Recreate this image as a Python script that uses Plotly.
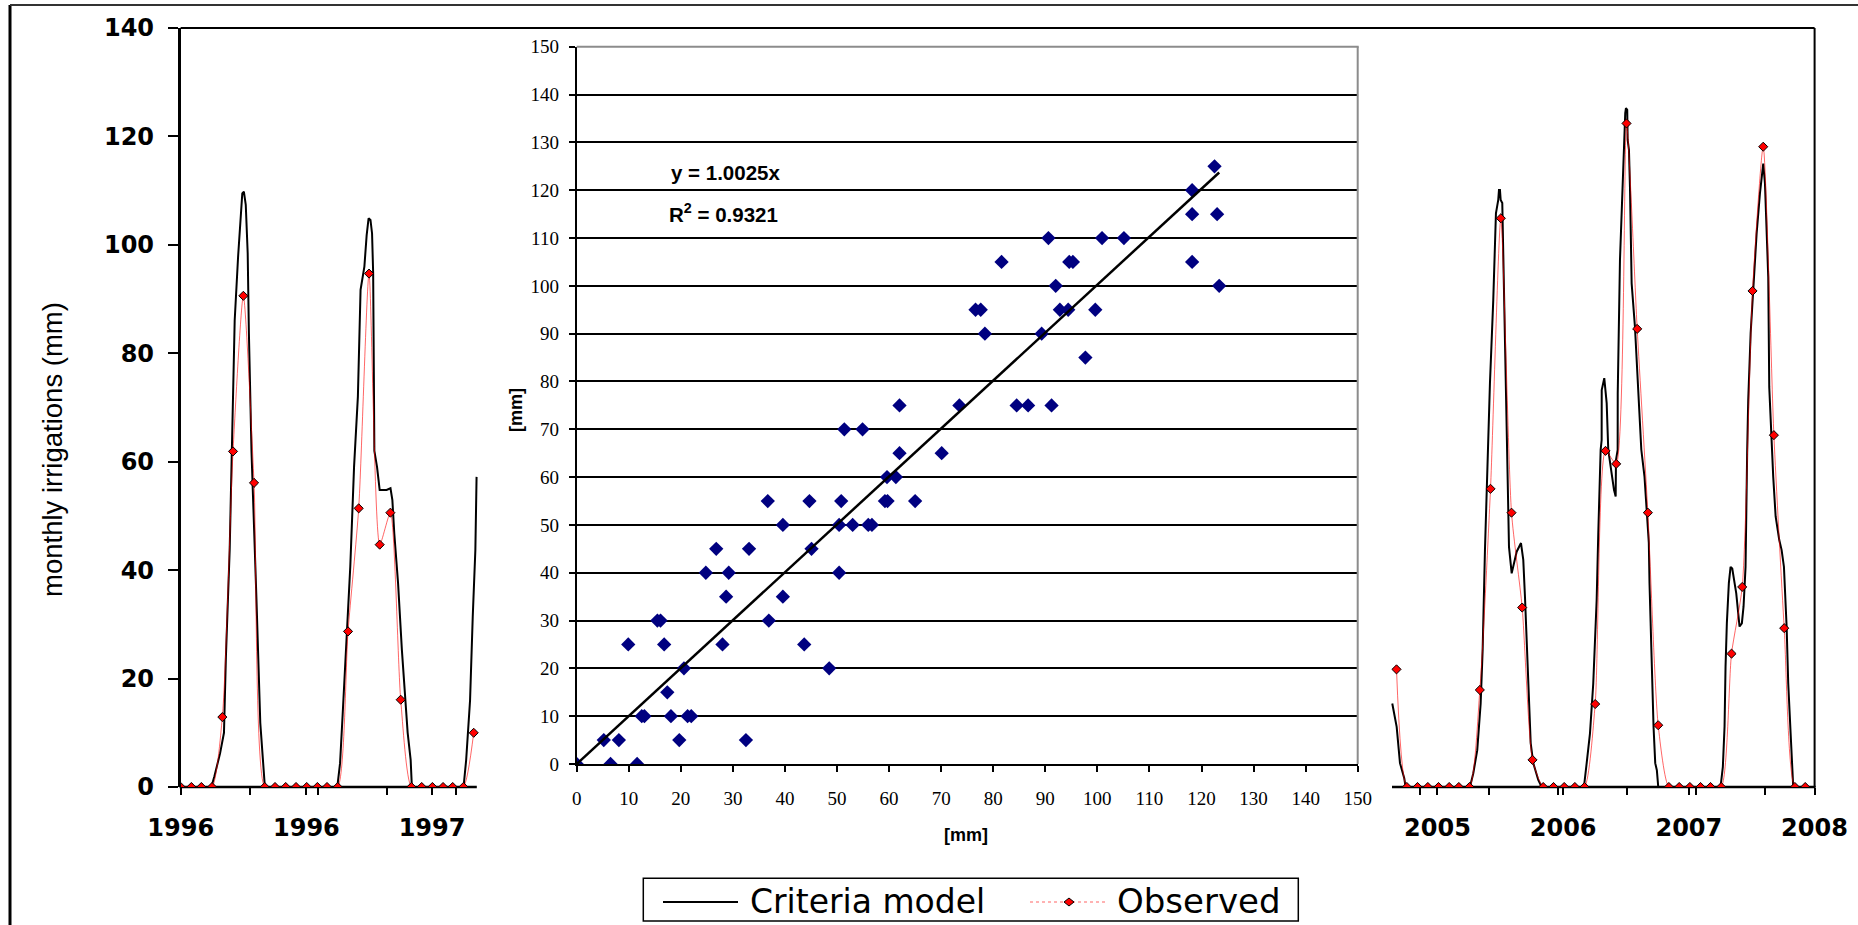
import pandas as pd
import plotly.graph_objects as go

# ---------------------------------------------------------------- data
START = pd.Timestamp("1996-01-01")

# Criteria model, daily output (days since 1 Jan 1996, mm)
model_left_day = [0, 89, 97.9, 114.4, 125.7, 131.3, 142.3, 147.8, 156.8, 166.7,
                  173.4, 178.9, 183.5, 189.0, 194.6, 198.1, 205.6, 211.1, 220.1, 231.2,
                  240.2, 244.5, 454.8, 462.9, 470.1, 481.2, 492.5, 503.5, 514.6, 522.4,
                  533.5, 540.1, 545.7, 551.2, 555.8, 559.0, 562.5, 570.3, 577.9, 597.9,
                  609.3, 614.8, 620.3, 631.3, 642.4, 659.2, 667.9, 671.4, 821.5, 829.1,
                  840.4, 848.2, 855.8, 859.3]
model_left_val = [0, 0, 2, 6.2, 10, 24, 43.7, 62, 86, 97.8,
                  104, 109.5, 109.8, 107.4, 98.5, 83.7, 62, 52.9, 34.5, 11.8,
                  3.7, 0, 0, 4.4, 13, 26.6, 40.6, 59, 72, 91.7,
                  96, 101.8, 104.9, 104.6, 102.1, 94.8, 62, 59, 54.8, 54.8,
                  55.1, 52.9, 46.8, 37.6, 25.3, 10, 5, 0, 0, 5,
                  16, 31.4, 43.7, 57.2]

model_right_day = [3518.7, 3531.5, 3541.1, 3553.5, 3557.6, 3744.3, 3753.9, 3765.5, 3775.4, 3781.2,
                   3787.9, 3795.7, 3802.4, 3812.0, 3816.9, 3819.8, 3826.5, 3828.6, 3831.5, 3833.5,
                   3838.2, 3841.1, 3846.0, 3851.0, 3853.9, 3857.7, 3865.5, 3875.1, 3880.0, 3892.5,
                   3899.2, 3904.1, 3913.7, 3920.7, 3928.2, 3942.7, 3952.6, 4075.4, 4083.3, 4092.9,
                   4102.4, 4112.3, 4117.0, 4119.9, 4123.9, 4126.8, 4127.0, 4134.4, 4141.4, 4146.0,
                   4155.9, 4162.6, 4167.5, 4168.4, 4173.3, 4173.5, 4180.0, 4186.6, 4192.4, 4195.3,
                   4197.4, 4201.1, 4202.3, 4206.1, 4209.0, 4213.9, 4223.5, 4228.5, 4233.1, 4242.0,
                   4251.3, 4258.0, 4263.8, 4265.8, 4270.8, 4277.5, 4282.4, 4287.1, 4291.2, 4472.1,
                   4478.8, 4483.7, 4486.6, 4490.4, 4496.2, 4501.2, 4506.1, 4517.7, 4527.3, 4534.0,
                   4538.9, 4544.7, 4549.5, 4552.5, 4559.5, 4567.0, 4576.9, 4586.5, 4592.3, 4596.1,
                   4601.0, 4605.9, 4610.6, 4613.5, 4618.4, 4625.1, 4632.1, 4642.5, 4649.5, 4656.2,
                   4664.0, 4668.7, 4675.6, 4680.3, 4683.2, 4718.0]
model_right_val = [15.4, 11.1, 4.4, 1.6, 0, 0, 2.5, 6.8, 15.4, 25.3,
                   43.7, 62.2, 74.5, 89.8, 97.8, 105.8, 108.3, 110.1, 110.1, 108.3,
                   107.7, 97.8, 83.7, 62.2, 59.1, 44.3, 39.4, 41.9, 43.4, 45.0,
                   41.9, 35.1, 19.1, 8.1, 4.4, 1.3, 0, 0, 4.4, 9.9,
                   19.1, 34.5, 46.8, 56.0, 62.2, 64.0, 73.2, 75.4, 70.8, 62.2,
                   57.2, 54.8, 53.6, 60.3, 62.2, 72.6, 97.2, 109.5, 116.3, 124.3,
                   125.2, 124.9, 119.4, 117.5, 110.7, 92.9, 84.9, 78.8, 71.4, 62.2,
                   57.2, 50.5, 45.0, 37.6, 25.3, 11.1, 4.4, 3.1, 0, 0,
                   3.7, 11.1, 22.2, 30.2, 37.6, 40.6, 40.3, 35.7, 29.6, 30.2,
                   33.3, 40.6, 62.2, 71.4, 83.7, 91.7, 102.1, 109.5, 113.8, 115.0,
                   111.4, 102.7, 94.1, 73.8, 65.2, 57.2, 49.9, 45.6, 43.7, 40.6,
                   29.6, 19.1, 9.9, 3.1, 0, 0]

# Observed monthly irrigations (mm), first day of each month
obs_left_start = "1996-01-01"
obs_left_val = [0, 0, 0, 0, 12.9, 61.9, 90.6, 56.1, 0, 0, 0, 0, 0, 0, 0, 0,
                28.7, 51.4, 94.7, 44.7, 50.6, 16.1, 0, 0, 0, 0, 0, 0, 10.0]
obs_right_start = "2005-09-01"
obs_right_val = [21.7, 0, 0, 0, 0, 0, 0, 0, 17.9, 55.0, 104.9, 50.6, 33.1, 5.0,
                 0, 0, 0, 0, 0, 15.3, 62.0, 59.6, 122.4, 84.5, 50.6, 11.4,
                 0, 0, 0, 0, 0, 0, 24.6, 36.9, 91.5, 118.1, 64.9, 29.3, 0, 0]

# Time axis ticks (days since 1 Jan 1996): labelled major ticks and minor ticks
major_tick_days = [0, 365, 730, 3650, 4015, 4380, 4745]
major_tick_text = ["1996", "1996", "1997", "2005", "2006", "2007", "2008"]
minor_tick_days = [200, 400, 600, 800, 3600, 3800, 4000, 4200, 4400, 4600]
axis_end_day = 4745

# Scatter: monthly irrigation pairs [mm]
scatter_x = [0, 5.2, 6.5, 8.1, 9.9, 11.6, 12.5, 13.0, 15.5, 16.1,
             16.8, 17.4, 18.1, 19.7, 20.6, 21.3, 22.0, 24.8, 26.8, 28.0,
             28.7, 29.2, 32.5, 33.1, 36.7, 36.9, 39.6, 39.6, 43.7, 44.7,
             45.1, 48.5, 50.4, 50.4, 50.8, 51.4, 53.0, 54.9, 56.0, 56.7,
             59.2, 59.7, 59.6, 61.3, 62.0, 62.0, 65.0, 70.1, 73.5, 76.6,
             77.6, 78.4, 81.6, 84.5, 86.7, 91.2, 89.3, 90.6, 92.0, 92.8,
             94.4, 94.6, 95.3, 97.7, 99.6, 100.9, 105.1, 118.2, 118.2, 118.2,
             122.5, 123.0, 123.4]
scatter_y = [0, 5, 0, 5, 25, 0, 10, 10, 30, 30,
             25, 15, 10, 5, 20, 10, 10, 40, 45, 25,
             35, 40, 5, 45, 55, 30, 50, 35, 25, 55,
             45, 20, 40, 50, 55, 70, 50, 70, 50, 50,
             55, 55, 60, 60, 65, 75, 55, 65, 75, 95,
             95, 90, 105, 75, 75, 75, 90, 110, 100, 95,
             95, 105, 105, 85, 95, 110, 110, 120, 115, 105,
             125, 115, 100]
fit_slope = 1.0025
fit_r2 = 0.9321

# ---------------------------------------------------------------- helpers
W, H = 1858, 925


def fx(p):
    return p / W


def fy(p):
    return 1 - p / H


def to_dates(days):
    return [START + pd.Timedelta(days=d) for d in days]


SANS_WIDE = "DejaVu Sans"
SANS = "Liberation Sans, Arial"
SERIF = "Liberation Serif, Times New Roman"

model_line = dict(color="black", width=2)
obs_line = dict(color="rgba(255,0,0,0.6)", width=1, shape="spline", smoothing=0.6)
obs_marker = dict(symbol="diamond", size=7, color="red", line=dict(color="black", width=1))

fig = go.Figure()

# time series (left and right parts)
fig.add_trace(go.Scatter(x=to_dates(model_left_day), y=model_left_val, mode="lines",
                         line=model_line, name="Criteria model", showlegend=False))
fig.add_trace(go.Scatter(x=to_dates(model_right_day), y=model_right_val, mode="lines",
                         line=model_line, name="Criteria model", showlegend=False))
fig.add_trace(go.Scatter(x=pd.date_range(obs_left_start, periods=len(obs_left_val), freq="MS"),
                         y=obs_left_val, mode="lines+markers", line=obs_line,
                         marker=obs_marker, name="Observed", showlegend=False))
fig.add_trace(go.Scatter(x=pd.date_range(obs_right_start, periods=len(obs_right_val), freq="MS"),
                         y=obs_right_val, mode="lines+markers", line=obs_line,
                         marker=obs_marker, name="Observed", showlegend=False))

# inset scatter with regression through origin
fig.add_trace(go.Scatter(x=scatter_x, y=scatter_y, mode="markers", xaxis="x2", yaxis="y2",
                         marker=dict(symbol="diamond", size=11, color="#000080"),
                         showlegend=False))
fit_x = [0, max(scatter_x)]
fig.add_trace(go.Scatter(x=fit_x, y=[fit_slope * v for v in fit_x], mode="lines",
                         xaxis="x2", yaxis="y2", line=dict(color="black", width=2.5),
                         showlegend=False))

# ---------------------------------------------------------------- axes
main_x0, main_x1 = 180.6, 1814.6
main_ytop, main_ybot = 28, 787
ins_x0, ins_x1 = 576.7, 1357.7
ins_ytop, ins_ybot = 46.8, 764

fig.update_layout(
    template="none",
    width=W, height=H, autosize=False,
    margin=dict(l=0, r=0, t=0, b=0, pad=0, autoexpand=False),
    paper_bgcolor="white", plot_bgcolor="white",
    showlegend=False,
    xaxis=dict(
        type="date", domain=[fx(main_x0), fx(main_x1)], anchor="y", automargin=False,
        range=[START - pd.Timedelta(hours=6), START + pd.Timedelta(days=axis_end_day, hours=6)],
        showline=False, showgrid=False, zeroline=False,
        tickmode="array", tickvals=to_dates(major_tick_days), ticktext=major_tick_text,
        ticks="outside", ticklen=7, tickwidth=1.5, tickcolor="black",
        minor=dict(tickmode="array", tickvals=to_dates(minor_tick_days),
                   ticks="outside", ticklen=7, tickwidth=1.5, tickcolor="black",
                   showgrid=False),
        tickfont=dict(family=SANS_WIDE, size=24, color="black", weight="bold"),
        ticklabelstandoff=12,
    ),
    yaxis=dict(
        domain=[fy(main_ybot), fy(main_ytop)], anchor="x", automargin=False,
        range=[0, 140], tickmode="linear", tick0=0, dtick=20,
        showline=True, linecolor="black", linewidth=2.5,
        showgrid=False, zeroline=False,
        ticks="outside", ticklen=10, tickwidth=2, tickcolor="black",
        tickfont=dict(family=SANS_WIDE, size=24, color="black", weight="bold"),
        ticklabelstandoff=9,
    ),
    xaxis2=dict(
        domain=[fx(ins_x0), fx(ins_x1)], anchor="y2", automargin=False,
        range=[0, 150], tickmode="linear", tick0=0, dtick=10,
        showline=True, linecolor="black", linewidth=2,
        showgrid=False, zeroline=False,
        ticks="outside", ticklen=6, tickwidth=1.5, tickcolor="black",
        tickfont=dict(family=SERIF, size=19, color="black"),
        ticklabelstandoff=10,
    ),
    yaxis2=dict(
        domain=[fy(ins_ybot), fy(ins_ytop)], anchor="x2", automargin=False,
        range=[0, 150], tickmode="linear", tick0=0, dtick=10,
        showline=True, linecolor="black", linewidth=2,
        showgrid=True, gridcolor="black", gridwidth=1.5, zeroline=False,
        ticks="outside", ticklen=6, tickwidth=1.5, tickcolor="black",
        tickfont=dict(family=SERIF, size=19, color="black"),
        ticklabelstandoff=6,
    ),
)

# ---------------------------------------------------------------- frames
shapes = []


def hline(x0, x1, y, color="black", width=2, layer="above", dash=None):
    ln = dict(color=color, width=width)
    if dash:
        ln["dash"] = dash
    shapes.append(dict(type="line", xref="paper", yref="paper", layer=layer,
                       x0=fx(x0), x1=fx(x1), y0=fy(y), y1=fy(y), line=ln))


def vline(x, y0, y1, color="black", width=2, layer="above"):
    shapes.append(dict(type="line", xref="paper", yref="paper", layer=layer,
                       x0=fx(x), x1=fx(x), y0=fy(y0), y1=fy(y1),
                       line=dict(color=color, width=width)))


# outer border
vline(10, 5, H, width=3)
hline(10, W, 5, color="#333333", width=2)
# main plot frame (top/right) and the visible pieces of the time axis
hline(main_x0, main_x1, main_ytop, width=2)
vline(main_x1, main_ytop, main_ybot, width=2)
hline(main_x0 - 1, 476.8, main_ybot, width=2.5, layer="below")
hline(1392, main_x1 + 1, main_ybot, width=2.5, layer="below")
# inset frame (top/right, grey)
hline(ins_x0, ins_x1 + 1, ins_ytop, color="#8c8c8c", width=2)
vline(ins_x1, ins_ytop, ins_ybot, color="#8c8c8c", width=2)

# legend box
shapes.append(dict(type="rect", xref="paper", yref="paper", layer="above",
                   x0=fx(643.3), x1=fx(1298.3), y0=fy(921), y1=fy(878.3),
                   line=dict(color="black", width=1.5), fillcolor="rgba(0,0,0,0)"))
hline(663, 738, 902, color="black", width=2)
hline(1030, 1105, 902, color="rgba(255,0,0,0.6)", width=1.2, dash="dot")
mx, my = 1069, 902
shapes.append(dict(type="path", xref="paper", yref="paper", layer="above",
                   path=(f"M {fx(mx - 5)},{fy(my)} L {fx(mx)},{fy(my - 4)} "
                         f"L {fx(mx + 5)},{fy(my)} L {fx(mx)},{fy(my + 4)} Z"),
                   fillcolor="red", line=dict(color="black", width=1)))

fig.update_layout(shapes=shapes)

# ---------------------------------------------------------------- text
ann = []


def text(t, x, y, family, size, xanchor="center", angle=0):
    ann.append(dict(text=t, x=fx(x), y=fy(y), xref="paper", yref="paper",
                    xanchor=xanchor, yanchor="middle", showarrow=False,
                    textangle=angle, font=dict(family=family, size=size, color="black")))


text("monthly irrigations (mm)", 52, 450, SANS, 27.5, angle=-90)
text(f"<b>y = {fit_slope}x</b>", 669, 172, SANS, 20.5, xanchor="left")
text(f"<b>R<sup>2</sup> = {fit_r2}</b>", 667, 213, SANS, 20.5, xanchor="left")
text("<b>[mm]</b>", 966, 835, SANS, 18)
text("<b>[mm]</b>", 516, 410, SANS, 18, angle=-90)
text("Criteria model", 748, 901, SANS_WIDE, 33, xanchor="left")
text("Observed", 1115, 901, SANS_WIDE, 34, xanchor="left")

fig.update_layout(annotations=ann)

fig.write_html("out.html")
